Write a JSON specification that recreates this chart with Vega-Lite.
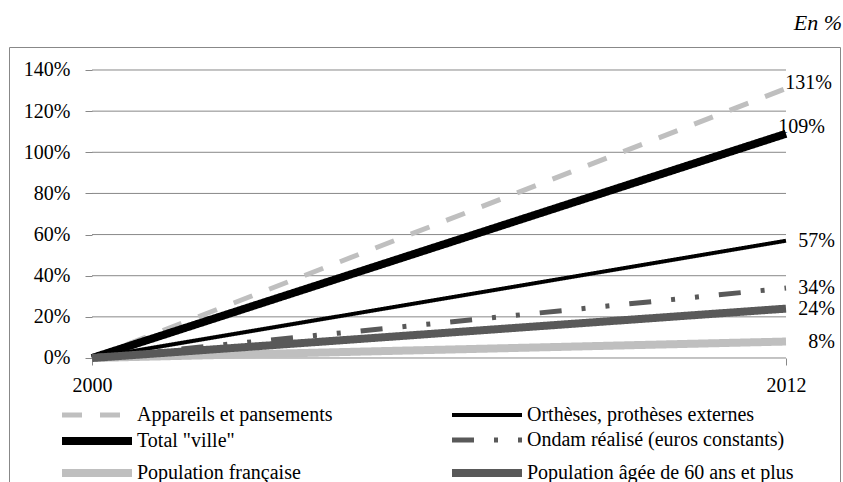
{
  "$schema": "https://vega.github.io/schema/vega-lite/v6.json",
  "autosize": "none",
  "padding": {"left": 9, "top": 47, "right": 3, "bottom": 0},
  "width": 831,
  "height": 435,
  "title": {"text": "En %", "anchor": "end", "frame": "group", "fontStyle": "italic", "fontWeight": "normal", "fontSize": 22, "font": "Liberation Serif", "color": "#000000", "offset": 12, "dx": 2},
  "config": {
    "font": "Liberation Serif",
    "view": {"stroke": "#888888", "strokeWidth": 1},
    "axis": {"labelFont": "Liberation Serif", "labelFontSize": 20, "labelColor": "#000000", "tickColor": "#888888", "tickSize": 7, "grid": false, "domain": false, "title": null},
    "legend": {"orient": "none", "direction": "horizontal", "legendX": 53, "legendY": 358, "columns": 2, "title": null, "symbolType": "M-5,0H5", "symbolSize": 196, "symbolOffset": 24, "labelFont": "Liberation Serif", "labelFontSize": 20, "labelColor": "#000000", "labelOffset": 29, "columnPadding": 103, "rowPadding": 0, "padding": 0, "labelLimit": 400}
  },
  "layer": [
    {
      "data": {"values": [{"v": 0}, {"v": 0.2}, {"v": 0.4}, {"v": 0.6}, {"v": 0.8}, {"v": 1.0}, {"v": 1.2}, {"v": 1.4}]},
      "mark": {"type": "rule", "color": "#888888", "strokeWidth": 1},
      "encoding": {
        "y": {"field": "v", "type": "quantitative", "scale": {"domain": [-0.6028, 1.5118], "nice": false, "zero": false}, "axis": {"orient": "left", "offset": -83, "values": [0, 0.2, 0.4, 0.6, 0.8, 1.0, 1.2, 1.4], "format": ".0%", "labelPadding": 15}},
        "x": {"datum": 2000, "type": "quantitative", "scale": {"domain": [1998.5648, 2012.9337], "nice": false, "zero": false}, "axis": {"orient": "bottom", "offset": -124, "values": [2000, 2012], "format": "d", "labelPadding": 10}},
        "x2": {"datum": 2012}
      }
    },
    {
      "mark": {"type": "rule", "color": "#888888", "strokeWidth": 1},
      "encoding": {
        "x": {"datum": 2000, "type": "quantitative"},
        "y": {"datum": 0, "type": "quantitative"},
        "y2": {"datum": 1.4}
      }
    },
    {
      "data": {"name": "series"},
      "layer": [
        {
          "mark": {"type": "line", "strokeCap": "butt"},
          "encoding": {
            "x": {"field": "year", "type": "quantitative"},
            "y": {"field": "value", "type": "quantitative"},
            "color": {"field": "series", "type": "ordinal", "scale": {"type": "ordinal", "domain": ["Appareils et pansements", "Orthèses, prothèses externes", "Total \"ville\"", "Ondam réalisé (euros constants)", "Population française", "Population âgée de 60 ans et plus"], "range": ["#bfbfbf", "#000000", "#000000", "#595959", "#bfbfbf", "#595959"]}},
            "strokeDash": {"field": "series", "type": "ordinal", "scale": {"type": "ordinal", "domain": ["Appareils et pansements", "Orthèses, prothèses externes", "Total \"ville\"", "Ondam réalisé (euros constants)", "Population française", "Population âgée de 60 ans et plus"], "range": [[20, 18], [1, 0], [1, 0], [22, 20, 4, 20, 4, 20], [1, 0], [1, 0]]}},
            "strokeWidth": {"field": "series", "type": "ordinal", "scale": {"type": "ordinal", "domain": ["Appareils et pansements", "Orthèses, prothèses externes", "Total \"ville\"", "Ondam réalisé (euros constants)", "Population française", "Population âgée de 60 ans et plus"], "range": [5, 4, 8, 5, 8, 8]}},
            "order": {"field": "year", "type": "quantitative"}
          }
        },
        {
          "transform": [{"filter": "datum.year == 2012 && datum.value > 1.2"}],
          "mark": {"type": "text", "align": "right", "baseline": "middle", "dx": 46, "dy": -6, "fontSize": 20, "font": "Liberation Serif", "color": "#000000"},
          "encoding": {"x": {"field": "year", "type": "quantitative"}, "y": {"field": "value", "type": "quantitative"}, "text": {"field": "value", "type": "quantitative", "format": ".0%"}}
        },
        {
          "transform": [{"filter": "datum.year == 2012 && datum.value > 1 && datum.value < 1.2"}],
          "mark": {"type": "text", "align": "right", "baseline": "middle", "dx": 39, "dy": -7, "fontSize": 20, "font": "Liberation Serif", "color": "#000000"},
          "encoding": {"x": {"field": "year", "type": "quantitative"}, "y": {"field": "value", "type": "quantitative"}, "text": {"field": "value", "type": "quantitative", "format": ".0%"}}
        },
        {
          "transform": [{"filter": "datum.year == 2012 && datum.value < 1"}],
          "mark": {"type": "text", "align": "right", "baseline": "middle", "dx": 49, "dy": 0, "fontSize": 20, "font": "Liberation Serif", "color": "#000000"},
          "encoding": {"x": {"field": "year", "type": "quantitative"}, "y": {"field": "value", "type": "quantitative"}, "text": {"field": "value", "type": "quantitative", "format": ".0%"}}
        }
      ]
    }
  ],
  "datasets": {
    "series": [
      {"series": "Appareils et pansements", "year": 2000, "value": 0},
      {"series": "Appareils et pansements", "year": 2012, "value": 1.31},
      {"series": "Orthèses, prothèses externes", "year": 2000, "value": 0},
      {"series": "Orthèses, prothèses externes", "year": 2012, "value": 0.57},
      {"series": "Total \"ville\"", "year": 2000, "value": 0},
      {"series": "Total \"ville\"", "year": 2012, "value": 1.09},
      {"series": "Ondam réalisé (euros constants)", "year": 2000, "value": 0},
      {"series": "Ondam réalisé (euros constants)", "year": 2012, "value": 0.34},
      {"series": "Population française", "year": 2000, "value": 0},
      {"series": "Population française", "year": 2012, "value": 0.08},
      {"series": "Population âgée de 60 ans et plus", "year": 2000, "value": 0},
      {"series": "Population âgée de 60 ans et plus", "year": 2012, "value": 0.24}
    ]
  }
}
